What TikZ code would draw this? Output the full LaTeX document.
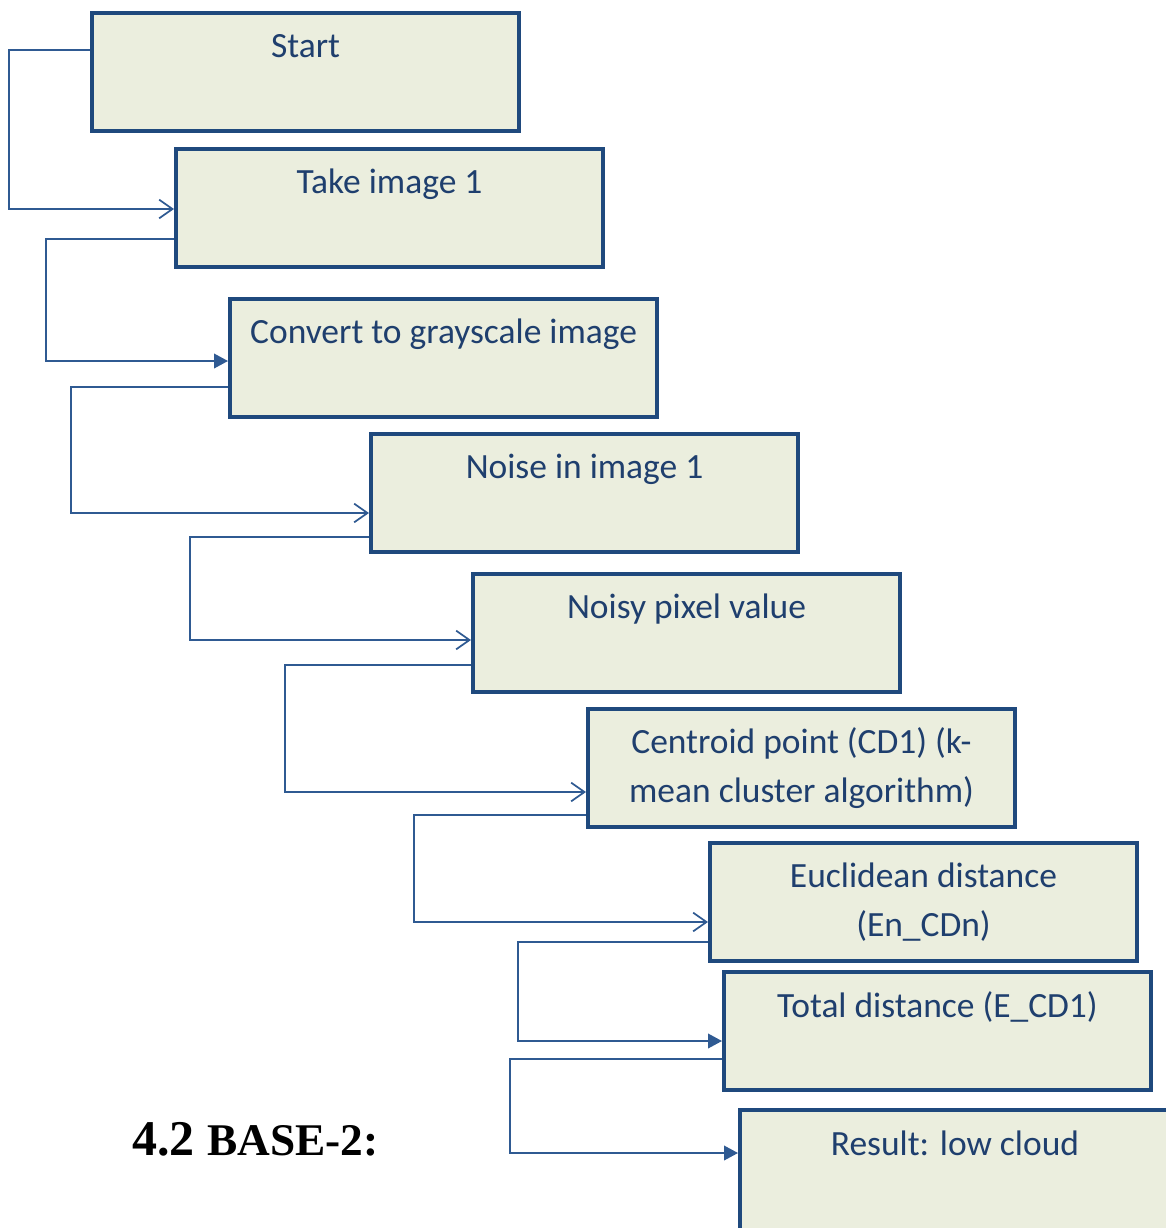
\documentclass[tikz,border=0pt]{standalone}
\usepackage{fontspec}
\setmainfont{Carlito}
\newfontfamily\headfont{Liberation Serif}
\usetikzlibrary{calc,arrows.meta}
\definecolor{boxline}{HTML}{1F497D}
\definecolor{boxfill}{HTML}{EBEEDE}
\definecolor{linkline}{HTML}{2F5A92}
\definecolor{labelblue}{HTML}{1F3F6E}
\begin{document}
\begin{tikzpicture}[x=0.75pt,y=-0.75pt,
  stepbox/.style={draw=boxline, fill=boxfill, line width=3.3pt, rectangle,
    minimum width=320pt, minimum height=88.2pt, anchor=north west, inner sep=0pt},
  steplabel/.style={anchor=base, text=labelblue, inner sep=0pt,
    font=\fontsize{26.6}{37}\selectfont},
  link/.style={draw=linkline, line width=1.3pt},
  openlink/.style={link, -{Straight Barb[length=10pt,width=14pt]}},
  solidlink/.style={link, -{Triangle[length=10.5pt,width=11pt]}}]
\useasboundingbox (0,0) rectangle (1166,1228);
\clip (0,0) rectangle (1166,1228);

% process boxes
\node[stepbox] (b1) at (90,11) {};
\node[stepbox] (b2) at (174,147) {};
\node[stepbox] (b3) at (228,297) {};
\node[stepbox] (b4) at (369,432) {};
\node[stepbox] (b5) at (471,572) {};
\node[stepbox] (b6) at (586,707) {};
\node[stepbox] (b7) at (708,841) {};
\node[stepbox] (b8) at (722,970) {};
% the last box runs off the page to the right and below
\node[stepbox, minimum width=360pt, minimum height=200pt] (b9) at (738,1108) {};

% box labels
\node[steplabel] (t1) at ($(b1.north)+(0,46)$) {Start};
\node[steplabel] (t2) at ($(b2.north)+(0,46)$) {Take image 1};
\node[steplabel] (t3) at ($(b3.north)+(0,46)$) {Convert to grayscale image};
\node[steplabel] (t4) at ($(b4.north)+(0,46)$) {Noise in image 1};
\node[steplabel] (t5) at ($(b5.north)+(0,46)$) {Noisy pixel value};
\node[steplabel] (t6a) at ($(b6.north)+(0,46)$) {Centroid point (CD1) (k-};
\node[steplabel] (t6b) at ($(b6.north)+(0,95)$) {mean cluster algorithm)};
\node[steplabel] (t7a) at ($(b7.north)+(0,46)$) {Euclidean distance};
\node[steplabel] (t7b) at ($(b7.north)+(0,95)$) {(En\_CDn)};
\node[steplabel] (t8) at ($(b8.north)+(0,47)$) {Total distance (E\_CD1)};
\node[steplabel] (t9) at ($(b9.north west)+(217,47)$) {Result: low cloud};

% elbow points of the connectors
\coordinate (k1a) at (9,50);   \coordinate (k1b) at (9,209);
\coordinate (k2a) at (46,239); \coordinate (k2b) at (46,361);
\coordinate (k3a) at (71,387); \coordinate (k3b) at (71,513);
\coordinate (k4a) at (190,537); \coordinate (k4b) at (190,640);
\coordinate (k5a) at (285,665); \coordinate (k5b) at (285,792);
\coordinate (k6a) at (414,815); \coordinate (k6b) at (414,922);
\coordinate (k7a) at (518,942); \coordinate (k7b) at (518,1041);
\coordinate (k8a) at (510,1059); \coordinate (k8b) at (510,1153);

% connectors
\draw[openlink]  (b1.west |- k1a) -- (k1a) -- (k1b) -- (b2.west |- k1b);
\draw[solidlink] (b2.west |- k2a) -- (k2a) -- (k2b) -- (b3.west |- k2b);
\draw[openlink]  (b3.west |- k3a) -- (k3a) -- (k3b) -- (b4.west |- k3b);
\draw[openlink]  (b4.west |- k4a) -- (k4a) -- (k4b) -- (b5.west |- k4b);
\draw[openlink]  (b5.west |- k5a) -- (k5a) -- (k5b) -- (b6.west |- k5b);
\draw[openlink]  (b6.west |- k6a) -- (k6a) -- (k6b) -- (b7.west |- k6b);
\draw[solidlink] (b7.west |- k7a) -- (k7a) -- (k7b) -- (b8.west |- k7b);
\draw[solidlink] (b8.west |- k8a) -- (k8a) -- (k8b) -- (b9.west |- k8b);

% section heading
\node[anchor=base west, inner sep=0pt] (head) at (132,1155)
  {\headfont\bfseries\fontsize{37.5}{40}\selectfont 4.2 \fontsize{34}{36}\selectfont BASE-2:};
\end{tikzpicture}
\end{document}
